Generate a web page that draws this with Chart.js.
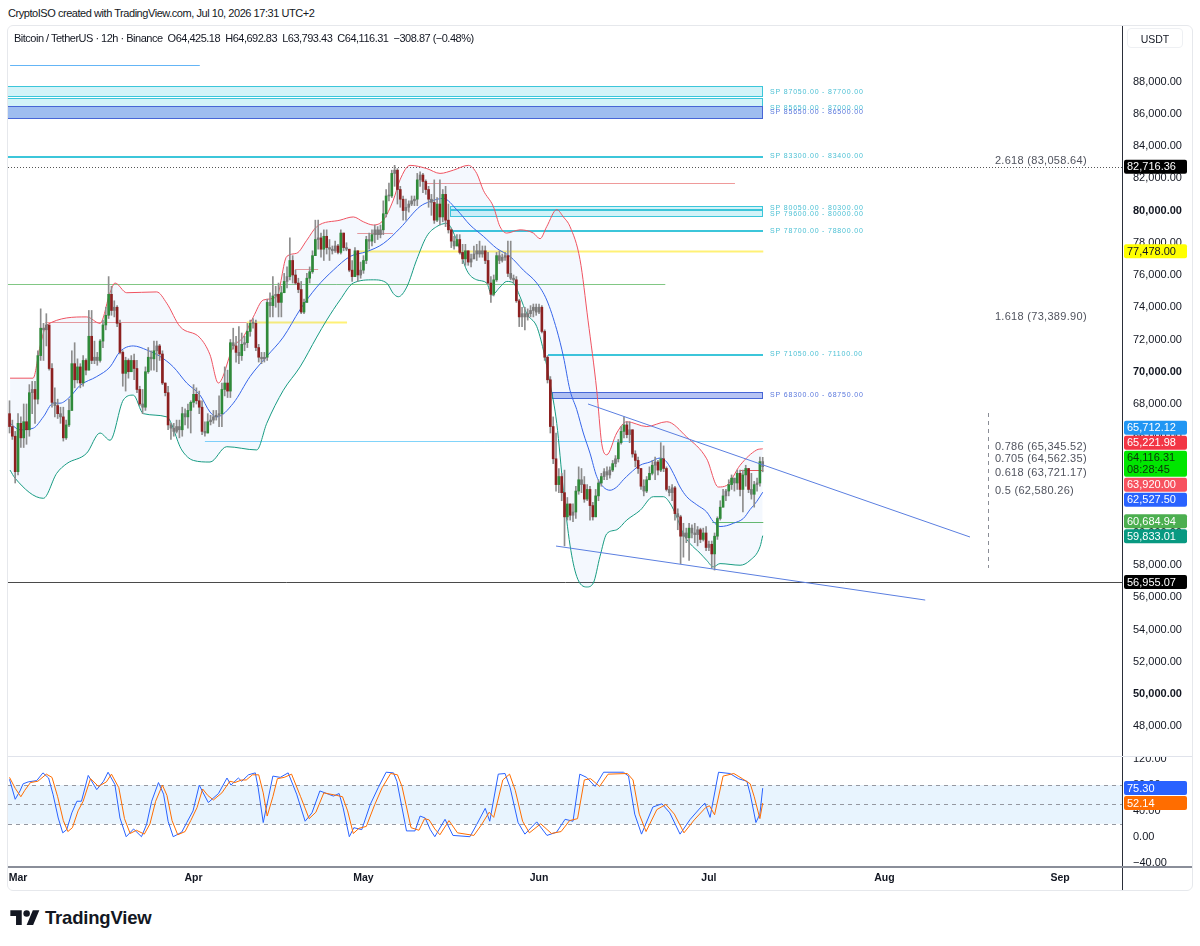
<!DOCTYPE html>
<html>
<head>
<meta charset="utf-8">
<title>BTCUSDT 12h</title>
<script src="https://cdn.jsdelivr.net/npm/chart.js@4.4.1/dist/chart.umd.min.js"></script>
<style>
  html, body { margin: 0; padding: 0; background: #fff; }
  body { width: 1200px; height: 946px; position: relative; overflow: hidden;
         font-family: "Liberation Sans", Arial, sans-serif; color: #131722; }
  .abs { position: absolute; }
  #credit { left: 8px; top: 6px; font-size: 11px; line-height: 14px; letter-spacing: -0.45px; }
  #frame { left: 7px; top: 25px; width: 1186px; height: 866px; border: 1px solid #e6e8ec; border-radius: 6px; box-sizing: border-box; }
  #legend { left: 14px; top: 31px; font-size: 11px; line-height: 14px; white-space: pre; letter-spacing: -0.5px; }
  #usdt { left: 1127px; top: 28px; width: 56px; height: 20px; border: 1px solid #eef0f3; border-radius: 4px; font-size: 10.5px; line-height: 20px; text-align: center; box-sizing: border-box; }
  #vline { left: 1122px; top: 26px; width: 1px; height: 864px; background: #2a2e39; }
  #pane { left: 8px; top: 756px; width: 1184px; height: 1px; background: #e0e3eb; }
  #axisline { left: 8px; top: 866px; width: 1184px; height: 2px; background: #8a8e99; }
  #brand { left: 10px; top: 907px; display: flex; align-items: center; gap: 5px; font-weight: bold; font-size: 18.5px; letter-spacing: -0.2px; }
</style>
</head>
<body>
<canvas id="price" class="abs" style="left:8px;top:26px" width="1184" height="731"></canvas>
<canvas id="stoch" class="abs" style="left:8px;top:757px" width="1184" height="133"></canvas>
<div id="frame" class="abs"></div>
<div id="credit" class="abs"></div>
<div id="legend" class="abs"></div>
<div id="usdt" class="abs">USDT</div>
<div id="vline" class="abs"></div>
<div id="pane" class="abs"></div>
<div id="axisline" class="abs"></div>
<div id="brand" class="abs">
  <svg width="30" height="22" viewBox="0 0 36 27"><path d="M14 22H7V11H0V4h14v18z M28 22h-8l7.6-18h8L28 22z" fill="#131722"/><circle cx="20" cy="8" r="4" fill="#131722"/></svg>
  <span>TradingView</span>
</div>

<script>
// ---- 12h candles, day 0 = 1 Mar ----
const firstOpen = 67400;
const firstCandleDay = -1.5;
const candleStep = 0.5;

const closes = [
  66600,66000,63800,66800,65900,66900,66400,68700,68900,68300,
  71000,72700,72600,72900,70200,68100,67900,67400,67200,65900,
  66700,67600,70500,69500,70300,69300,70700,70100,72200,70700,
  70900,70700,71900,72900,73500,74800,73800,74000,73000,71200,
  69900,70700,70000,70700,70200,68900,68000,67800,70000,70900,
  70800,71300,71600,71100,69300,68700,66700,66500,66300,66600,
  66400,67400,67200,67600,68100,68600,68200,67800,66300,66200,
  66900,67000,67200,67300,67400,68900,69300,68800,71800,71600,
  71200,71000,71700,71800,72500,73000,73000,71500,70900,70800,
  70900,74300,74100,74700,74800,74300,74900,75600,75900,76900,
  76000,75500,75100,73700,74300,75800,76200,77200,78200,78300,
  77600,78400,77700,77600,77500,77800,77400,78600,77700,77600,
  76300,75900,77500,76000,76300,76900,78200,78100,78500,78800,
  78500,78800,79800,80900,80900,82300,82500,81300,80700,80000,
  80200,80400,80600,80700,81900,82200,81800,81300,80700,80500,
  79400,80400,79600,81000,79400,78800,78100,77800,78200,77400,
  77000,77500,76800,77000,77300,77500,77300,77500,76900,75500,
  74800,75700,77200,76900,77100,77200,76100,75800,75700,74400,
  73400,73600,73400,73600,73800,74000,73700,74000,72500,70900,
  69500,66600,64600,63000,63500,62500,61000,61800,61100,61300,
  62600,63300,63000,62100,62700,61700,61000,62300,63100,63500,
  63800,63600,63900,64300,64600,65600,66300,66700,66100,66400,
  64900,64500,64000,62900,62600,63300,63700,64200,64400,63900,
  64600,64000,62700,62500,62800,61200,61000,59800,60000,59700,
  60300,60000,59900,60200,59600,60000,59100,59300,58700,59800,
  60900,61600,62300,62600,63000,63400,63100,63700,62700,63600,
  64000,62700,62400,63000,63100,64425,64116
];
const highs = [
  68200,67000,66300,67400,67200,68000,68000,69200,69400,69400,
  71300,73900,73000,73600,72600,70500,69000,68300,67800,67800,
  67000,68300,71300,71800,70800,70500,71000,70800,73800,73800,
  71900,71200,72000,73200,74000,75900,75300,74400,74100,73200,
  71300,70900,70800,71000,71100,70700,69100,68900,70300,71500,
  71300,71900,71900,71700,71300,69300,69100,66800,66800,67000,
  67000,67800,67700,68000,68200,69200,69000,68800,68200,66900,
  67400,67300,67600,67600,68500,69300,70300,70100,72000,72700,
  72200,72800,72400,72200,73000,73200,73300,73200,71700,71200,
  71200,74500,74900,75900,75300,75500,75300,76100,76500,78300,
  77200,76300,75800,75600,74500,76100,76500,77500,79400,79400,
  78600,78800,78800,78200,77800,78100,77900,78800,78600,78000,
  77500,76900,77700,77300,76800,77200,78400,78600,78800,79100,
  79000,79100,80600,81300,81700,82500,82800,82600,81500,80900,
  80700,80600,80900,80900,82300,82400,82300,81900,81500,81000,
  81900,80800,81900,81300,81500,80400,78900,78400,78500,78500,
  77900,77900,77300,77300,77800,77900,78100,77800,77800,77400,
  75900,76000,77400,77500,77300,77400,78100,78100,76000,75900,
  74500,74000,74000,73900,74100,74200,74200,74200,74100,72600,
  71000,69700,67200,66200,64000,63700,63900,62200,61800,61800,
  62900,64100,64000,63500,63000,62900,61900,62700,63300,63700,
  64000,64100,64100,64500,64800,65800,66600,67200,66900,66900,
  66200,65100,64700,64000,63300,63500,64100,64500,64700,64500,
  65600,65400,64100,62900,63000,62900,61500,61100,60600,60300,
  60600,60500,60600,60400,60300,60300,60400,59500,59500,60000,
  61000,62000,62700,62700,63300,63600,63400,63900,63900,63900,
  64200,64000,63700,63200,63400,64700,64692.83
];
const lows = [
  66200,65800,63100,63600,65300,65300,65500,66000,67400,66800,
  68000,70700,70700,71600,70100,67800,67200,67100,66800,65700,
  65800,66600,68000,69000,69300,69000,69100,69800,70400,70500,
  70500,70400,70600,71500,72600,73300,73500,73400,72800,71100,
  69100,68800,69600,70200,69500,68700,67900,67400,67600,69900,
  70100,70100,70000,70700,69200,68500,66400,65800,66000,66200,
  65900,66000,66700,66500,66200,67800,68000,67400,66100,66000,
  66200,66700,66800,67000,66600,66600,68500,68400,68400,71400,
  70600,70500,70700,71300,71500,72200,72700,71300,70600,70500,
  70600,70700,73400,73400,74000,73400,73400,74900,75200,75700,
  75500,75400,74900,73600,73600,74300,75500,76100,77300,77600,
  77100,76900,77300,76900,77300,77400,77300,77300,77500,77500,
  76200,75600,76100,75600,75800,76100,76700,77600,77800,78000,
  78200,78300,78500,79600,80600,80800,81500,80400,80200,79400,
  79400,79900,80300,80300,80300,81500,81100,81000,80200,79700,
  79200,79300,79100,79300,79000,78600,77700,77600,78000,77300,
  76700,76600,76600,76500,77000,76900,77100,77100,76700,75400,
  74300,74700,75600,76700,76800,76900,75900,75700,75500,74300,
  72800,72800,72600,73200,73400,73400,73500,73600,72400,70700,
  69300,66200,64300,62600,62500,62000,59200,60800,60800,60700,
  60900,62400,62500,61900,62000,60800,60800,61000,62000,62900,
  63300,63300,63400,63800,64100,64400,65500,65900,65900,65600,
  64700,64100,63700,62700,62300,62500,63300,63600,63300,63600,
  63800,63800,62600,62300,62000,60800,60200,58100,58500,59400,
  58300,59700,59400,59200,59400,59500,58900,58900,57800,57700,
  59600,60800,61600,62000,62300,62700,62600,62700,62300,61300,
  62900,62500,62100,61600,62600,62900,63793.43
];

// ---- channel (upper / basis / lower), read at [day, price] ----
const upperDays = [-1.41,2.65,3.88,5.07,12.13,14.48,16.25,17.13,19.19,24.49,26.26,28.61,32.14,33.9,35.37,38.02,39.78,41.55,43.32,45.68,47.45,49.21,50.98,52.75,56.86,59.21,60.98,62.74,64.51,66.27,67.45,69.22,72.17,74.52,76.87,79.52,81.0,82.17,83.93,85.11,86.3,88.65,91.0,92.18,93.36,95.13,96.3,97.47,99.24,100.65,102.19,103.07,103.96,105.72,107.49,111.02,114.55,118.08,121.61,123.66,125.14,127.5,130.44,131.5];
const upperVals = [69600,69600,71550,72900,73400,73000,74900,75500,74900,74950,74250,72800,72100,71050,69300,71550,72150,73400,74450,74650,77150,77350,78150,79000,79400,79600,79300,79100,79400,80650,81900,82800,82600,82300,82500,82800,82300,81250,80250,79000,78600,78800,78600,78250,79000,80050,79600,79000,76950,73200,68850,65550,64850,66200,66900,66600,66900,65950,64600,62850,62950,64200,65150,65221.98];
const midDays = [-1.41,0.35,2.7,4.47,6.23,7.42,9.18,10.95,13.9,16.25,18.01,20.36,22.73,25.07,27.42,29.79,32.14,33.9,35.09,38.02,40.97,43.92,46.85,49.8,52.75,55.68,58.63,61.58,64.51,67.45,70.99,72.75,75.1,77.47,79.82,82.17,84.53,86.88,89.23,91.6,93.36,95.13,96.3,97.47,98.66,99.82,101.0,102.19,103.36,104.54,105.72,106.89,108.07,109.84,111.6,113.37,114.55,115.72,116.9,118.08,119.85,121.61,122.78,123.96,125.14,126.31,128.08,129.26,130.44,131.5];
const midVals = [66800,66400,66500,67200,68050,68050,68450,69150,69700,70300,71250,71600,71350,70950,70300,69300,68550,67500,67200,68050,69700,70950,72150,73850,75250,76300,77150,77450,77950,78900,80250,80550,80750,80050,79100,78400,77650,77150,76300,75500,74450,72600,70950,68850,67650,66200,64950,63500,62850,62650,62850,63300,63700,64200,64400,64650,64400,63700,62850,62250,61750,61300,60700,60400,60450,60600,60900,61450,61950,62527.5];
const lowerDays = [-1.41,-0.53,4.47,6.83,8.6,12.13,14.48,16.25,18.6,20.36,22.13,26.26,28.91,30.96,33.9,36.85,42.15,43.92,46.85,49.8,52.75,54.51,56.86,59.21,62.74,65.11,66.27,67.15,68.64,70.4,72.17,73.93,75.7,77.47,79.23,81.0,82.77,83.65,85.11,86.3,87.46,88.65,89.83,91.6,92.76,93.94,95.13,96.3,97.47,98.66,100.42,101.59,102.77,103.96,105.72,107.49,109.84,112.19,113.95,115.13,116.31,117.48,118.66,120.43,121.61,122.78,123.96,127.5,129.26,131.03,131.5];
const lowerVals = [63900,63400,62150,63700,64300,64950,66200,65750,68250,68550,67400,67200,65150,64500,64400,65350,65150,66800,68850,70300,72150,73200,74450,75500,75700,75500,74850,74650,75250,76950,78400,79000,79200,78150,76300,75700,75500,74750,75250,75600,75500,74650,73600,72800,71350,69300,66800,62650,59250,57300,56650,56900,58550,59950,60200,60800,61400,62250,62250,61850,61000,59950,59350,58750,58300,57900,58100,58000,58300,59150,59833.01];

// ---- Stoch RSI ----
const stochKDays = [-1.5,-0.5,0.35,0.9,1.8,3.3,4.4,5.4,6.2,7.1,7.9,8.6,9.5,10.4,11.2,12.4,13.9,15.1,15.9,17.1,18,19.1,20.4,21.8,22.7,23.6,24.8,25.7,26.5,27.4,28.9,29.8,30.9,32,32.7,33.6,35.4,36.9,37.6,38.9,39.5,40.7,41.9,42.4,43.3,44.2,45,46.3,47.7,49.2,50.7,51.9,53.3,55.7,56.7,57.4,58.5,59.3,60.7,62.2,63.6,65,66.3,66.9,68.6,70.1,71,71.9,72.8,73.6,75.4,76.8,79.8,81,82.5,83.3,84.8,86,86.9,88.3,89.5,91.6,93.4,95.1,96.6,98,99.2,100.4,101.9,103.4,106.9,107.8,108.9,110.1,112.1,113.7,115.1,116.9,118.7,120.7,121.3,122.2,123.7,125.7,127.2,128.7,129.3,130.3,131,131.5];
const stochK = [89,58,71,82,85,87,99,91,65,29,6,11,37,55,55,95,73,86,100,81,29,0,12,0,19,55,84,66,24,0,7,22,40,80,68,53,67,91,80,91,86,96,99,76,22,60,94,92,99,66,24,37,71,63,67,45,0,14,11,50,76,100,99,86,9,9,32,29,11,0,27,2,0,19,44,24,97,98,76,22,4,23,2,7,27,24,97,92,78,100,100,94,35,4,46,51,37,4,27,47,52,30,100,98,90,86,66,22,35,75.30];
const stochDDays = [-1.5,-0.5,0.5,1.2,2.2,3.5,5,6,7,8,8.8,9.6,10.6,11.5,12.8,14.2,15.6,16.5,17.8,18.8,19.8,20.9,22.3,23.3,24.3,25.5,26.3,27.2,28.2,29.5,30.5,31.6,32.6,33.5,34.5,36,37.4,38.3,39.5,40.3,41.4,42.5,43.3,44,45,45.8,47,48.3,49.9,51.4,52.6,54,56.3,57.3,58.2,59.2,60.2,61.5,63,64.3,65.8,67,67.8,69.4,70.8,71.8,72.6,73.6,74.5,76.1,77.6,80.5,81.8,83.2,84,85.6,86.8,87.8,89.1,90.3,92.3,94.2,95.9,97.4,98.8,100,101.1,102.7,104.2,107.6,108.6,109.7,110.9,112.8,114.4,115.9,117.6,119.4,121.4,122.1,123,124.5,126.4,127.9,129.3,130,131,131.5];
const stochD = [92,75,62,72,84,86,97,92,62,25,8,14,40,55,90,78,85,97,76,28,5,10,4,20,55,80,64,25,3,8,25,45,74,64,57,68,86,84,88,88,96,96,68,32,62,90,92,97,62,28,38,68,64,62,40,5,13,16,50,76,98,96,78,14,10,28,26,12,3,25,6,2,18,38,30,88,97,72,24,6,20,5,8,25,28,88,90,78,97,98,88,35,8,42,50,35,6,26,45,48,34,94,98,90,82,62,28,52.14];
const stochBand = [20, 80];
const stochLevels = [80, 50, 20];
const stochTicks = [-40, 0, 40, 80, 120];
const stochTags = [75.30, 52.14];

// ---- axes ----
const monthDays = [0, 31, 61, 92, 122, 153, 184];
const monthNames = ['Mar', 'Apr', 'May', 'Jun', 'Jul', 'Aug', 'Sep'];
const priceTicks = [48000, 50000, 52000, 54000, 56000, 58000, 60000, 62000, 64000, 66000, 68000,
                    70000, 72000, 74000, 76000, 78000, 80000, 82000, 84000, 86000, 88000];
const xMin = -1.77, xMax = 195.12;
const yMin = 46106, yMax = 91442;
const stochMin = -46.5, stochMax = 123.6;

// ---- drawings ----
const spLow   = [87050, 85650, 85650, 83300, 80050, 79600, 78700, 71050, 68300];
const spHigh  = [87700, 87000, 86500, 83400, 80300, 80000, 78800, 71100, 68750];
const spFrom  = [-3, -3, -3, -3, 76.3, 76.3, 76.3, 93.6, 94.3];
const zoneEnd = 131.6, zoneLabelDay = 132.8;

const levelPrices = [89023, 81700, 78585, 77478, 76370, 75440, 73100, 73100, 65712.12, 63920, 60684.94];
const levelFrom   = [-1.4, 71.9, 59.9, 59.9, 48.9, -3, 4.8, 40.4, 33.0, 127.5, 122.6];
const levelTo     = [32.1, 126.6, 66.2, 131.6, 53.0, 114.3, 40.4, 58.1, 131.6, 131.6, 131.6];

const wedgeUpper = [[100.65, 68000], [168.1, 59750]];
const wedgeLower = [[95.0, 59190], [160.2, 55840]];
const fibRatios = ['2.618', '1.618', '0.786', '0.705', '0.618', '0.5'];
const fibPrices = [83058.64, 73389.90, 65345.52, 64562.35, 63721.17, 62580.26];
const fibLabelDay = 172.5, fibGuideDay = 171.3, fibGuide = [57830, 67440];
const highLine = 82716.36, lowLine = 56955.07;
const tagValues = [82716.36, 77478.00, 65712.12, 65221.98, 64116.31, 63920.00, 62527.50, 60684.94, 59833.01, 56955.07];
const countdown = '08:28:45';
const lastBar = [64425.18, 64692.83, 63793.43, 64116.31];
const lastChange = [-308.87, -0.48];

// ---- styles ----
const FONT = '"Liberation Sans", Arial, sans-serif';
const AXIS_W = 69;
const TAG_H = 15, TAG_H2 = 27;
const spTone = ['c', 'c', 'b', 'c', 'c', 'c', 'c', 'c', 'b'];
const zoneStyle = {
  c: {fill: 'rgba(128,222,234,0.35)', line: '#3cc6da', text: '#4cc0d4'},
  b: {fill: 'rgba(96,125,230,0.45)', line: '#4766d6', text: '#5a78dd'}
};
const levelColors = ['#64b5f6', '#ef9a9a', '#ef9a9a', '#fff176', '#ef9a9a', '#81c784', '#ef9a9a', '#fff176', '#81d4fa', '#ef5350', '#66bb6a'];
const levelWidths = [1, 1, 1, 2, 1, 1, 1, 2, 1, 1, 1];
const tagStyles = [['#000', '#fff'], ['#ffff00', '#131722'], ['#2196f3', '#fff'], ['#f23645', '#fff'], ['#00e600', '#0b320b'],
                   ['#f7525f', '#fff'], ['#2962ff', '#fff'], ['#4caf50', '#fff'], ['#089981', '#fff'], ['#000', '#fff']];
const stochTagStyles = [['#2962ff', '#fff'], ['#ff6d00', '#fff']];

const fmt = v => (v < 0 ? '\u2212' : '') + Math.abs(v).toLocaleString('en-US', {minimumFractionDigits: 2, maximumFractionDigits: 2});

document.getElementById('credit').textContent = 'CryptoISO created with TradingView.com, Jul 10, 2026 17:31 UTC+2';
document.getElementById('legend').textContent =
  'Bitcoin / TetherUS \u00b7 12h \u00b7 Binance  O' + fmt(lastBar[0]) + '  H' + fmt(lastBar[1]) + '  L' + fmt(lastBar[2]) +
  '  C' + fmt(lastBar[3]) + '  ' + fmt(lastChange[0]) + ' (' + fmt(lastChange[1]) + '%)';

// ---- build candles ----
const bodies = [], wicks = [], bodyColors = [];
closes.forEach((c, i) => {
  const o = i === 0 ? firstOpen : closes[i - 1];
  const d = firstCandleDay + i * candleStep;
  bodies.push({x: d, y: [o, c]});
  wicks.push({x: d, y: [Math.min(lows[i], o, c), Math.max(highs[i], o, c)]});
  bodyColors.push(Math.abs(c - o) < 350 ? '#7a7a7a' : (c > o ? '#2f8a3a' : '#8c2020'));
});
const pairs = (ds, vs) => ds.map((d, k) => ({x: d, y: vs[k]}));

// ---- right-axis price tags, spread so they don't overlap ----
function drawTags(chart, values, styles, subIndex) {
  const {ctx, chartArea, scales: {y}} = chart;
  const items = values.map((v, k) => ({v, k, h: k === subIndex ? TAG_H2 : TAG_H, c: y.getPixelForValue(v)}))
                      .sort((a, b) => a.c - b.c);
  const fit = b => {
    let cum = 0, s = 0;
    b.items.forEach(it => { s += it.c - cum - it.h / 2; cum += it.h; });
    b.h = cum; b.top = s / b.items.length;
  };
  const blocks = [];
  items.forEach(it => {
    const b = {items: [it]}; fit(b); blocks.push(b);
    while (blocks.length > 1) {
      const p = blocks[blocks.length - 2], q = blocks[blocks.length - 1];
      if (p.top + p.h <= q.top) break;
      p.items = p.items.concat(q.items); blocks.pop(); fit(p);
    }
  });
  const x0 = chartArea.right + 1;
  ctx.save();
  ctx.font = '11px ' + FONT;
  ctx.textBaseline = 'middle';
  ctx.textAlign = 'left';
  blocks.forEach(b => {
    let t = b.top;
    b.items.forEach(it => {
      const [bg, fg] = styles[it.k];
      ctx.fillStyle = bg;
      ctx.beginPath();
      if (ctx.roundRect) ctx.roundRect(x0, t + 0.5, 63, it.h - 1, 2); else ctx.rect(x0, t + 0.5, 63, it.h - 1);
      ctx.fill();
      ctx.fillStyle = fg;
      ctx.fillText(fmt(it.v), x0 + 3, t + 8);
      if (it.k === subIndex) ctx.fillText(countdown, x0 + 3, t + 20);
      t += it.h;
    });
  });
  ctx.restore();
}

const priceDecor = {
  id: 'priceDecor',
  beforeDatasetsDraw(chart) {
    const {ctx, chartArea: a, scales: {x, y}} = chart;
    ctx.save();
    ctx.beginPath(); ctx.rect(a.left, a.top, a.right - a.left, a.bottom - a.top); ctx.clip();
    spLow.forEach((lo, k) => {
      const st = zoneStyle[spTone[k]];
      const x0 = Math.round(x.getPixelForValue(spFrom[k])), x1 = Math.round(x.getPixelForValue(zoneEnd));
      const y0 = Math.round(y.getPixelForValue(spHigh[k])), y1 = Math.round(y.getPixelForValue(lo));
      ctx.fillStyle = st.fill; ctx.fillRect(x0, y0, x1 - x0, y1 - y0);
      ctx.strokeStyle = st.line; ctx.lineWidth = 1;
      ctx.strokeRect(x0 + 0.5, y0 + 0.5, x1 - x0 - 1, Math.max(y1 - y0 - 1, 1));
    });
    levelPrices.forEach((p, k) => {
      const yy = Math.round(y.getPixelForValue(p)) + 0.5;
      ctx.strokeStyle = levelColors[k]; ctx.lineWidth = levelWidths[k];
      ctx.beginPath(); ctx.moveTo(x.getPixelForValue(levelFrom[k]), yy); ctx.lineTo(x.getPixelForValue(levelTo[k]), yy); ctx.stroke();
    });
    ctx.lineWidth = 1;
    let yy = Math.round(y.getPixelForValue(highLine)) + 0.5;
    ctx.strokeStyle = '#555'; ctx.setLineDash([1, 2]);
    ctx.beginPath(); ctx.moveTo(a.left, yy); ctx.lineTo(a.right, yy); ctx.stroke();
    ctx.setLineDash([]);
    yy = Math.round(y.getPixelForValue(lowLine)) + 0.5;
    ctx.strokeStyle = '#4a4a4a';
    ctx.beginPath(); ctx.moveTo(a.left, yy); ctx.lineTo(a.right, yy); ctx.stroke();
    ctx.restore();
  },
  afterDatasetsDraw(chart) {
    const {ctx, chartArea: a, scales: {x, y}} = chart;
    ctx.save();
    ctx.beginPath(); ctx.rect(a.left, a.top, a.right - a.left, a.bottom - a.top); ctx.clip();
    ctx.strokeStyle = '#5b7fe0'; ctx.lineWidth = 1;
    [wedgeUpper, wedgeLower].forEach(seg => {
      ctx.beginPath();
      ctx.moveTo(x.getPixelForValue(seg[0][0]), y.getPixelForValue(seg[0][1]));
      ctx.lineTo(x.getPixelForValue(seg[1][0]), y.getPixelForValue(seg[1][1]));
      ctx.stroke();
    });
    const gx = Math.round(x.getPixelForValue(fibGuideDay)) + 0.5;
    ctx.strokeStyle = '#8a8d96'; ctx.setLineDash([4, 4]);
    ctx.beginPath(); ctx.moveTo(gx, y.getPixelForValue(fibGuide[1])); ctx.lineTo(gx, y.getPixelForValue(fibGuide[0])); ctx.stroke();
    ctx.setLineDash([]);
    ctx.textBaseline = 'middle'; ctx.textAlign = 'left';
    ctx.font = '7px ' + FONT;
    if ('letterSpacing' in ctx) ctx.letterSpacing = '0.8px';
    spLow.forEach((lo, k) => {
      ctx.fillStyle = zoneStyle[spTone[k]].text;
      ctx.fillText('SP ' + lo.toFixed(2) + ' - ' + spHigh[k].toFixed(2), x.getPixelForValue(zoneLabelDay), y.getPixelForValue((lo + spHigh[k]) / 2));
    });
    ctx.font = '11px ' + FONT;
    if ('letterSpacing' in ctx) ctx.letterSpacing = '0.3px';
    ctx.fillStyle = '#50535e';
    fibPrices.forEach((p, k) => {
      ctx.fillText(fibRatios[k] + ' (' + fmt(p) + ')', x.getPixelForValue(fibLabelDay), y.getPixelForValue(p));
    });
    ctx.restore();
  },
  afterDraw(chart) { drawTags(chart, tagValues, tagStyles, 4); }
};

const stochDecor = {
  id: 'stochDecor',
  beforeDatasetsDraw(chart) {
    const {ctx, chartArea: a, scales: {y}} = chart;
    const yTop = y.getPixelForValue(stochBand[1]), yBot = y.getPixelForValue(stochBand[0]);
    ctx.save();
    ctx.fillStyle = 'rgba(33,150,243,0.1)';
    ctx.fillRect(a.left, yTop, a.right - a.left, yBot - yTop);
    ctx.strokeStyle = '#9598a1'; ctx.lineWidth = 1; ctx.setLineDash([4, 4]);
    stochLevels.forEach(v => {
      const yy = Math.round(y.getPixelForValue(v)) + 0.5;
      ctx.beginPath(); ctx.moveTo(a.left, yy); ctx.lineTo(a.right, yy); ctx.stroke();
    });
    ctx.restore();
  },
  afterDraw(chart) { drawTags(chart, stochTags, stochTagStyles, -1); }
};

Chart.defaults.font.family = FONT;

new Chart(document.getElementById('price'), {
  type: 'bar',
  data: {
    datasets: [
      {type: 'bar', data: bodies, backgroundColor: bodyColors, barThickness: 2, grouped: false, minBarLength: 1, borderWidth: 0, order: 0},
      {type: 'bar', data: wicks, backgroundColor: '#8d8d8d', barThickness: 1, grouped: false, borderWidth: 0, order: 1},
      {type: 'line', data: pairs(upperDays, upperVals), borderColor: '#ef5361', borderWidth: 1, pointRadius: 0,
       cubicInterpolationMode: 'monotone', fill: {target: 4, above: 'rgba(66,133,244,0.06)', below: 'rgba(66,133,244,0.06)'}, order: 2},
      {type: 'line', data: pairs(midDays, midVals), borderColor: '#3563e9', borderWidth: 1, pointRadius: 0,
       cubicInterpolationMode: 'monotone', fill: false, order: 2},
      {type: 'line', data: pairs(lowerDays, lowerVals), borderColor: '#169c7f', borderWidth: 1, pointRadius: 0,
       cubicInterpolationMode: 'monotone', fill: false, order: 2}
    ]
  },
  options: {
    responsive: false, animation: false, events: [],
    layout: {padding: 0},
    plugins: {legend: {display: false}, tooltip: {enabled: false}},
    scales: {
      x: {type: 'linear', min: xMin, max: xMax, offset: false, display: false},
      y: {
        type: 'linear', position: 'right', min: yMin, max: yMax, beginAtZero: false,
        grid: {display: false, drawTicks: false}, border: {display: false},
        ticks: {
          autoSkip: false, padding: 10, color: '#131722',
          font: c => ({family: FONT, size: 11, weight: c.tick && c.tick.value % 10000 === 0 ? 'bold' : 'normal'}),
          callback: v => fmt(v)
        },
        afterBuildTicks: s => { s.ticks = priceTicks.map(v => ({value: v})); },
        afterFit: s => { s.width = AXIS_W; s.paddingTop = 0; s.paddingBottom = 0; }
      }
    }
  },
  plugins: [priceDecor]
});

new Chart(document.getElementById('stoch'), {
  type: 'line',
  data: {
    datasets: [
      {data: pairs(stochDDays, stochD), borderColor: '#ff6d00', borderWidth: 1, pointRadius: 0, tension: 0},
      {data: pairs(stochKDays, stochK), borderColor: '#2962ff', borderWidth: 1, pointRadius: 0, tension: 0}
    ]
  },
  options: {
    responsive: false, animation: false, events: [],
    layout: {padding: 0},
    plugins: {legend: {display: false}, tooltip: {enabled: false}},
    scales: {
      x: {
        type: 'linear', min: xMin, max: xMax, offset: false,
        grid: {display: false, drawTicks: false}, border: {display: false},
        ticks: {autoSkip: false, maxRotation: 0, padding: 5, color: '#131722',
                font: {family: FONT, size: 10.5, weight: 'bold'},
                callback: v => { const k = monthDays.indexOf(v); return k < 0 ? '' : monthNames[k]; }},
        afterBuildTicks: s => { s.ticks = monthDays.map(v => ({value: v})); },
        afterFit: s => { s.height = 23.3; s.paddingLeft = 0; s.paddingRight = 0; }
      },
      y: {
        type: 'linear', position: 'right', min: stochMin, max: stochMax,
        grid: {display: false, drawTicks: false}, border: {display: false},
        ticks: {padding: 10, color: '#131722', font: {family: FONT, size: 11}, callback: v => fmt(v)},
        afterBuildTicks: s => { s.ticks = stochTicks.map(v => ({value: v})); },
        afterFit: s => { s.width = AXIS_W; s.paddingTop = 0; s.paddingBottom = 0; }
      }
    }
  },
  plugins: [stochDecor]
});
</script>
</body>
</html>
